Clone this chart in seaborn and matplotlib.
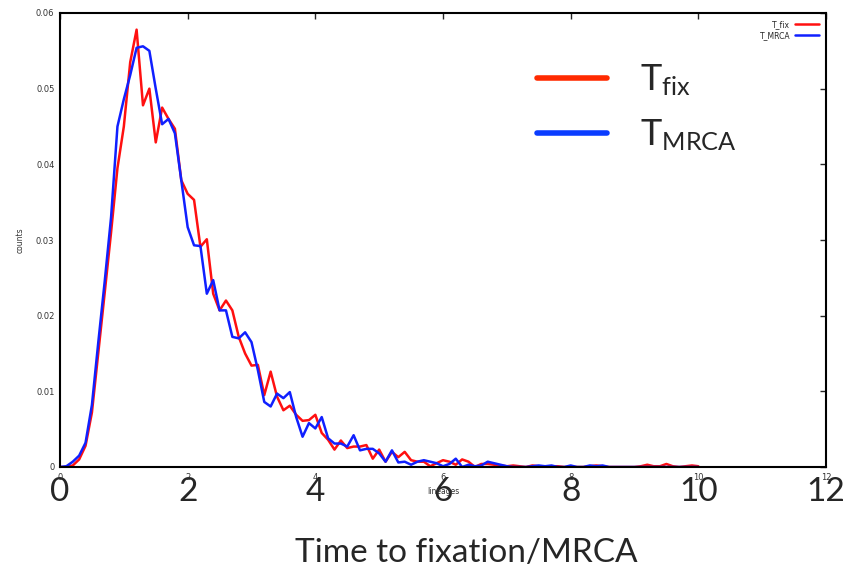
import numpy as np
import pandas as pd
import matplotlib
matplotlib.use("Agg")
import matplotlib.pyplot as plt
import seaborn as sns
from matplotlib.lines import Line2D

# dados (passo 0.1 em x)
x_vals = np.round(np.arange(0, 10.01, 0.1), 1)

t_fix = [0, 0, 0.0002, 0.0010, 0.0028, 0.0072, 0.0151, 0.0230, 0.0310, 0.0395,
         0.0450, 0.0535, 0.0578, 0.0478, 0.0500, 0.0429, 0.0475, 0.0460, 0.0447, 0.0379,
         0.0361, 0.0353, 0.0291, 0.0301, 0.0229, 0.0207, 0.0220, 0.0207, 0.0172, 0.0150,
         0.0134, 0.0135, 0.0095, 0.0126, 0.0093, 0.0075, 0.0081, 0.0069, 0.0061, 0.0062,
         0.0069, 0.0045, 0.0036, 0.0023, 0.0035, 0.0025, 0.0027, 0.0027, 0.0029, 0.0011,
         0.0023, 0.0007, 0.0020, 0.0013, 0.0020, 0.0009, 0.0007, 0.0007, 0.0001, 0.0005,
         0.0009, 0.0007, 0.0003, 0.0010, 0.0007, 0.0000, 0.0004, 0.0004, 0.0003, 0.0002,
         0.0001, 0.0002, 0.0001, 0.0000, 0.0002, 0.0001, 0.0000, 0.0001, 0.0001, 0.0000,
         0.0000, 0.0000, 0.0000, 0.0001, 0.0002, 0.0001, 0.0000, 0.0000, 0.0000, 0.0000,
         0.0000, 0.0001, 0.0003, 0.0001, 0.0001, 0.0004, 0.0001, 0.0000, 0.0001, 0.0002,
         0.0001]

t_mrca = [0, 0.0001, 0.0007, 0.0015, 0.0032, 0.0082, 0.0165, 0.0245, 0.0330, 0.0450,
          0.0486, 0.0518, 0.0554, 0.0556, 0.0550, 0.0500, 0.0453, 0.0460, 0.0441, 0.0379,
          0.0317, 0.0293, 0.0292, 0.0229, 0.0247, 0.0207, 0.0207, 0.0172, 0.0170, 0.0178,
          0.0165, 0.0128, 0.0086, 0.0080, 0.0097, 0.0091, 0.0099, 0.0066, 0.0040, 0.0058,
          0.0051, 0.0066, 0.0038, 0.0031, 0.0031, 0.0027, 0.0042, 0.0022, 0.0024, 0.0024,
          0.0018, 0.0007, 0.0022, 0.0006, 0.0007, 0.0003, 0.0007, 0.0009, 0.0007, 0.0005,
          0.0001, 0.0004, 0.0011, 0.0000, 0.0003, 0.0001, 0.0002, 0.0007, 0.0005, 0.0003,
          0.0001, 0.0000, 0.0000, 0.0000, 0.0001, 0.0002, 0.0001, 0.0002, 0.0000, 0.0000,
          0.0002, 0.0000, 0.0000, 0.0002, 0.0001, 0.0002, 0.0000, 0.0000, 0.0000, 0.0000,
          0.0000, 0.0000, 0.0000, 0.0000, 0.0000, 0.0000, 0.0000, 0.0000, 0.0000, 0.0000,
          0.0000]

series_names = ["T_fix", "T_MRCA"]
x_ticks = [0, 2, 4, 6, 8, 10, 12]
y_ticks = [0, 0.01, 0.02, 0.03, 0.04, 0.05, 0.06]
y_tick_labels = ["0", "0.01", "0.02", "0.03", "0.04", "0.05", "0.06"]

df = pd.DataFrame({
    "lineages": np.concatenate([x_vals, x_vals]),
    "counts": np.concatenate([t_fix, t_mrca]),
    "serie": [series_names[0]] * len(x_vals) + [series_names[1]] * len(x_vals),
})

sns.set_style("white")
plt.rcParams["mathtext.fontset"] = "custom"
plt.rcParams["mathtext.rm"] = "Lato"
plt.rcParams["mathtext.it"] = "Lato"

fig = plt.figure(figsize=(8.44, 5.73), dpi=100)
ax = fig.add_axes([60 / 844, 106 / 573, 766 / 844, 454 / 573])

sns.lineplot(data=df, x="lineages", y="counts", hue="serie",
             palette={"T_fix": "#ff1010", "T_MRCA": "#1020ff"},
             linewidth=1.8, ax=ax)

ax.set_xlim(0, 12)
ax.set_ylim(0, 0.06)
ax.set_yticks(y_ticks)
ax.set_yticklabels(y_tick_labels)
ax.set_xticks(x_ticks)
ax.tick_params(direction="in", length=4, width=1, labelsize=6, labelcolor="#333333",
               top=True, right=True, pad=4)
for s in ax.spines.values():
    s.set_linewidth(1.5)
    s.set_color("black")
ax.set_xlabel("lineages", fontsize=5.5, color="#333333", labelpad=4)
ax.set_ylabel("counts", fontsize=5.5, color="#333333", labelpad=8)

# legenda pequena do gnuplot
ax.legend(loc="upper right", fontsize=5.5, frameon=False, markerfirst=False,
          handlelength=3.2, handletextpad=0.6, labelspacing=0.3,
          borderaxespad=0.5, title=None)

# rótulos grandes por cima
sec = ax.secondary_xaxis("bottom")
sec.set_xticks(x_ticks)
sec.tick_params(length=0, labelsize=24, pad=7)
for lab in sec.get_xticklabels():
    lab.set_fontfamily("Lato")
sec.spines["bottom"].set_visible(False)

fig.text(466 / 844, 1 - 553 / 573, "Time to fixation/MRCA", fontsize=24,
         family="Lato", ha="center", va="center")

# legenda grande
fig.add_artist(Line2D([537 / 844, 607 / 844], [1 - 78 / 573, 1 - 78 / 573],
                      transform=fig.transFigure, color="#ff2a00", linewidth=4))
fig.add_artist(Line2D([537 / 844, 607 / 844], [1 - 133 / 573, 1 - 133 / 573],
                      transform=fig.transFigure, color="#0a3cff", linewidth=4))
fig.text(640 / 844, 1 - 80 / 573, r"$\mathrm{T}_{\mathrm{fix}}$", fontsize=26,
         ha="left", va="center")
fig.text(640 / 844, 1 - 135 / 573, r"$\mathrm{T}_{\mathrm{MRCA}}$", fontsize=26,
         ha="left", va="center")

fig.savefig("out.png", dpi=100)
